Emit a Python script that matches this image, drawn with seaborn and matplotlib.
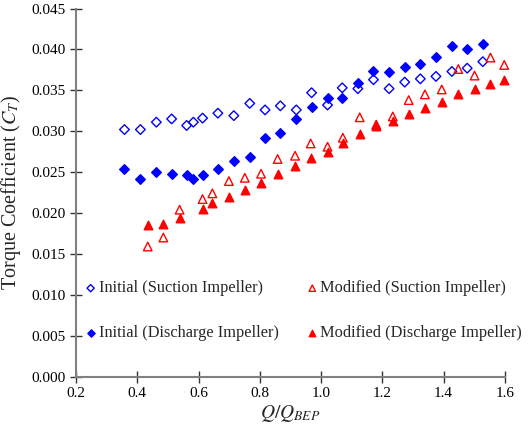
import numpy as np
import pandas as pd
from matplotlib import pyplot as plt
from matplotlib.ticker import FormatStrFormatter
import seaborn as sns

# Initial design, suction impeller (open diamonds)
q_init_suc = [0.358, 0.410, 0.462, 0.512, 0.561, 0.583, 0.613, 0.663, 0.715, 0.767,
              0.817, 0.867, 0.919, 0.969, 1.021, 1.069, 1.120, 1.171, 1.222, 1.273,
              1.324, 1.375, 1.427, 1.477, 1.528]
ct_init_suc = [0.0302, 0.0302, 0.0311, 0.0315, 0.0307, 0.0311, 0.0316, 0.0322, 0.0319, 0.0334,
               0.0326, 0.0331, 0.0326, 0.0347, 0.0332, 0.0353, 0.0352, 0.0363, 0.0352, 0.0360,
               0.0364, 0.0367, 0.0373, 0.0377, 0.0385]

# Initial design, discharge impeller (filled diamonds)
q_init_dis = q_init_suc
ct_init_dis = [0.0254, 0.0242, 0.0250, 0.0248, 0.0246, 0.0242, 0.0246, 0.0254, 0.0263, 0.0268,
               0.0292, 0.0298, 0.0315, 0.0330, 0.0341, 0.0340, 0.0359, 0.0374, 0.0372, 0.0378,
               0.0382, 0.0391, 0.0404, 0.0401, 0.0406]

# Modified design, suction impeller (open triangles)
q_mod_suc = [0.434, 0.485, 0.538, 0.613, 0.645, 0.699, 0.751, 0.804, 0.858, 0.915,
             0.966, 1.021, 1.071, 1.126, 1.180, 1.234, 1.286, 1.339, 1.394, 1.448,
             1.501, 1.553, 1.598]
ct_mod_suc = [0.0159, 0.0170, 0.0204, 0.0217, 0.0224, 0.0239, 0.0243, 0.0248, 0.0266, 0.0270,
              0.0285, 0.0281, 0.0292, 0.0317, 0.0308, 0.0318, 0.0338, 0.0345, 0.0351, 0.0376,
              0.0368, 0.0390, 0.0381]

# Modified design, discharge impeller (filled triangles)
q_mod_dis = q_mod_suc
ct_mod_dis = [0.0185, 0.0187, 0.0194, 0.0205, 0.0212, 0.0219, 0.0228, 0.0237, 0.0248, 0.0258,
              0.0267, 0.0275, 0.0285, 0.0296, 0.0306, 0.0313, 0.0321, 0.0328, 0.0336, 0.0345,
              0.0352, 0.0358, 0.0362]

labels = ['Initial (Suction Impeller)', 'Initial (Discharge Impeller)',
          'Modified (Suction Impeller)', 'Modified (Discharge Impeller)']

sns.set_style('white')
plt.rcParams['font.family'] = ['Liberation Serif', 'DejaVu Serif']
plt.rcParams['mathtext.fontset'] = 'stix'

fig = plt.figure(figsize=(5.32, 4.25), dpi=100)
ax = fig.add_axes([0.143, 0.114, 0.806, 0.866])

blue = '#0000FF'
red = '#FF0000'
series = [
    (q_init_suc, ct_init_suc, 'D', 'none', blue, 24),
    (q_init_dis, ct_init_dis, 'D', blue, blue, 24),
    (q_mod_suc, ct_mod_suc, '^', 'none', red, 38),
    (q_mod_dis, ct_mod_dis, '^', red, red, 38),
]
for (q, ct, m, fc, ec, s), lab in zip(series, labels):
    df = pd.DataFrame({'Q': q, 'Ct': ct})
    sns.scatterplot(data=df, x='Q', y='Ct', marker=m, s=s, facecolors=fc,
                    edgecolors=ec, linewidth=1.0, label=lab, ax=ax, clip_on=False,
                    zorder=3)

ax.set_xlim(0.2, 1.6)
ax.set_ylim(0.0, 0.045)
ax.set_xticks(np.arange(0.2, 1.61, 0.2))
ax.set_yticks(np.arange(0.0, 0.0451, 0.005))
ax.xaxis.set_major_formatter(FormatStrFormatter('%.1f'))
ax.yaxis.set_major_formatter(FormatStrFormatter('%.3f'))
ax.tick_params(direction='inout', length=8, width=1, colors='#333333',
               labelcolor='black', labelsize=11, bottom=True, left=True)
sns.despine(ax=ax)
for sp in ['left', 'bottom']:
    ax.spines[sp].set_color('#808080')
    ax.spines[sp].set_linewidth(1.5)

ax.set_xlabel('$Q/Q_{BEP}$', fontsize=14, labelpad=2)
ax.set_ylabel('Torque Coefficient ($C_T$)', fontsize=14.5, labelpad=6)

ax.legend(loc='lower left', bbox_to_anchor=(-0.01, 0.065), ncol=2, frameon=False,
          fontsize=11.8, markerscale=0.75, handletextpad=0.05, handlelength=0.9,
          labelspacing=1.75, columnspacing=1.6, borderaxespad=0.3)

plt.savefig('out.png', dpi=100)
